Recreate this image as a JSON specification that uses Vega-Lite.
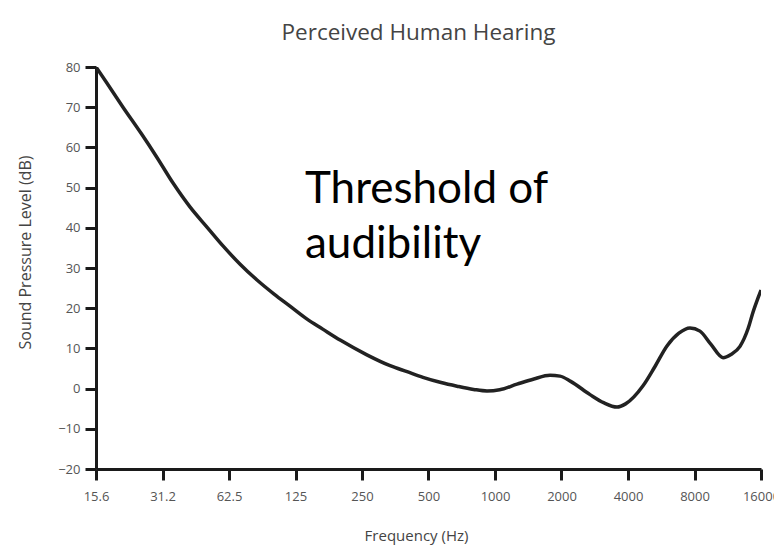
{
  "$schema": "https://vega.github.io/schema/vega-lite/v6.json",
  "width": 665,
  "height": 402,
  "autosize": {"type": "none"},
  "padding": {"left": 96, "top": 67, "right": 13, "bottom": 82},
  "background": "white",
  "title": {
    "text": "Perceived Human Hearing",
    "font": "Open Sans",
    "fontSize": 22.5,
    "fontWeight": "normal",
    "color": "#444444",
    "offset": 17,
    "dx": -10
  },
  "config": {
    "view": {"stroke": null},
    "axis": {
      "grid": false,
      "domainColor": "#1a1a1a",
      "domainWidth": 3,
      "tickColor": "#1a1a1a",
      "tickWidth": 3,
      "tickSize": 11,
      "labelFont": "Open Sans",
      "labelFontSize": 13,
      "labelColor": "#555555",
      "titleFont": "Open Sans",
      "titleFontWeight": "normal",
      "titleColor": "#444444"
    }
  },
  "layer": [
    {
      "data": {
        "values": [
          {"freq": 15.625, "db": 80},
          {"freq": 17.5, "db": 76},
          {"freq": 20.7, "db": 70},
          {"freq": 25, "db": 63.5},
          {"freq": 29.5, "db": 57.5},
          {"freq": 35, "db": 51},
          {"freq": 41.6, "db": 45.2},
          {"freq": 50, "db": 40},
          {"freq": 58.7, "db": 35.5},
          {"freq": 70, "db": 31},
          {"freq": 83.7, "db": 27},
          {"freq": 100, "db": 23.5},
          {"freq": 118, "db": 20.5},
          {"freq": 140, "db": 17.4},
          {"freq": 166, "db": 14.8},
          {"freq": 200, "db": 12.0},
          {"freq": 263, "db": 8.4},
          {"freq": 335, "db": 5.7},
          {"freq": 400, "db": 4.2},
          {"freq": 472, "db": 2.8},
          {"freq": 570, "db": 1.5},
          {"freq": 673, "db": 0.6},
          {"freq": 800, "db": -0.2},
          {"freq": 920, "db": -0.6},
          {"freq": 1050, "db": -0.3},
          {"freq": 1258, "db": 1.1},
          {"freq": 1500, "db": 2.4},
          {"freq": 1774, "db": 3.3},
          {"freq": 1969, "db": 3.1},
          {"freq": 2200, "db": 1.8},
          {"freq": 2693, "db": -1.5},
          {"freq": 3100, "db": -3.5},
          {"freq": 3567, "db": -4.6},
          {"freq": 3900, "db": -3.8},
          {"freq": 4678, "db": 0.7},
          {"freq": 5300, "db": 5.5},
          {"freq": 6004, "db": 10.6},
          {"freq": 6800, "db": 13.8},
          {"freq": 7633, "db": 15.1},
          {"freq": 8470, "db": 14.3},
          {"freq": 9500, "db": 11},
          {"freq": 10770, "db": 7.7},
          {"freq": 11700, "db": 8.5},
          {"freq": 12853, "db": 10.5},
          {"freq": 14000, "db": 15},
          {"freq": 14720, "db": 19},
          {"freq": 15500, "db": 22.5},
          {"freq": 16000, "db": 24.5}
        ]
      },
      "mark": {"type": "line", "interpolate": "monotone", "color": "#222222", "strokeWidth": 3.5, "clip": true},
      "encoding": {
        "x": {
          "field": "freq",
          "type": "quantitative",
          "scale": {"type": "log", "domain": [15.625, 16000], "nice": false},
          "axis": {
            "title": "Frequency (Hz)",
            "titleFontSize": 15,
            "titleX": 320,
            "values": [15.625, 31.25, 62.5, 125, 250, 500, 1000, 2000, 4000, 8000, 16000],
            "labelExpr": "datum.value < 20 ? '15.6' : datum.value < 40 ? '31.2' : format(datum.value, '')",
            "labelPadding": 10,
            "titlePadding": 25,
            "labelFlush": false,
            "labelOverlap": false
          }
        },
        "y": {
          "field": "db",
          "type": "quantitative",
          "scale": {"domain": [-20, 80], "nice": false, "zero": false},
          "axis": {
            "title": "Sound Pressure Level (dB)",
            "titleFontSize": 16,
            "titleY": 185,
            "values": [-20, -10, 0, 10, 20, 30, 40, 50, 60, 70, 80],
            "labelPadding": 5,
            "titlePadding": 24
          }
        }
      }
    },
    {
      "data": {"values": [{"freq": 138, "db": 46.2, "label": "Threshold of\naudibility"}]},
      "mark": {"type": "text", "align": "left", "baseline": "alphabetic", "font": "Lato", "fontSize": 44, "color": "#000000", "lineBreak": "\n", "lineHeight": 55},
      "encoding": {
        "x": {"field": "freq", "type": "quantitative"},
        "y": {"field": "db", "type": "quantitative"},
        "text": {"field": "label"}
      }
    }
  ]
}
